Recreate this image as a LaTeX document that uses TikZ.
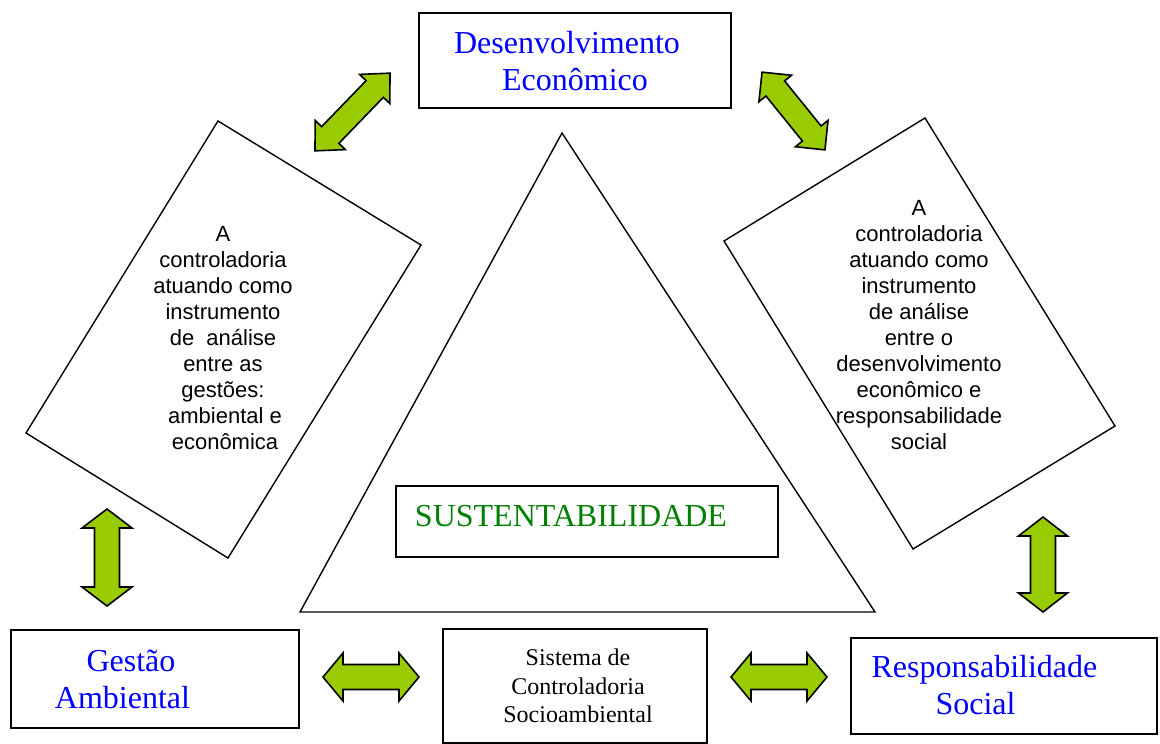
\documentclass[tikz,border=0pt]{standalone}
\usepackage{fontspec}
\setmainfont{Liberation Serif}
\newfontfamily\arialfont{Liberation Sans}
\definecolor{arrowgreen}{HTML}{99CC00}
\definecolor{textblue}{HTML}{0000FF}
\definecolor{textgreen}{HTML}{008000}
\newcommand{\blockarrow}[6]{% center, angle, half length, head half width, shaft half width, head length
  \begin{scope}[shift={#1}, rotate=#2]
    \draw[arrowshape] (-#3,0) -- (-#3+#6,#4) -- (-#3+#6,#5) -- (#3-#6,#5) -- (#3-#6,#4) -- (#3,0)
      -- (#3-#6,-#4) -- (#3-#6,-#5) -- (-#3+#6,-#5) -- (-#3+#6,-#4) -- cycle;
  \end{scope}}
\begin{document}
\begin{tikzpicture}[x=1pt,y=-1pt,
  arrowshape/.style={fill=arrowgreen, draw=black, line width=1.6pt, line join=miter},
  boxstyle/.style={draw=black, line width=1.8pt, inner sep=0pt},
  shapeline/.style={draw=black, line width=1.4pt, line join=miter},
  bluetext/.style={text=textblue, font=\fontsize{32}{37}\selectfont, align=center, inner sep=0pt},
  sanstext/.style={text=black, font=\arialfont\fontsize{22}{26}\selectfont, align=center, inner sep=0pt},
  serifblack/.style={text=black, font=\fontsize{24}{28.5}\selectfont, align=center, inner sep=0pt}]
\useasboundingbox (0,0) rectangle (1160,744);
\fill[white] (0,0) rectangle (1160,744);

% triangle
\draw[shapeline] (562,133) coordinate (apex) -- (875,612) coordinate (bright) -- (300,612) coordinate (bleft) -- cycle;

% rotated rectangles
\draw[shapeline] (218,121) -- (421,245) -- (228,558) -- (26,433) -- cycle;
\node[sanstext] (lefttext) at (223,338) {A\\controladoria\\atuando como\\instrumento\\de~~análise\\entre as\\gestões:\\\hspace{4pt}ambiental e\\\hspace{4pt}econômica};
\draw[shapeline] (925,118) -- (1115,426) -- (913,549) -- (724,241) -- cycle;
\node[sanstext] (righttext) at (919,325) {A\\controladoria\\atuando como\\instrumento\\de análise\\entre o\\desenvolvimento\\econômico e\\responsabilidade\\social};

% boxes
\draw[boxstyle] (419,13) rectangle (731,108);
\node[bluetext] (desenv) at (567,61) {Desenvolvimento\\\hspace{16pt}Econômico};

\draw[boxstyle] (396,486) rectangle (778,557);
\node[text=textgreen, font=\fontsize{32}{37}\selectfont, inner sep=0pt] (sust) at (571,516) {SUSTENTABILIDADE};

\draw[boxstyle] (11,630) rectangle (299,728);
\node[bluetext] (gestao) at (122.5,679) {\hspace{17pt}Gestão\\Ambiental};

\draw[boxstyle] (443,629) rectangle (707,743);
\node[serifblack] (sistema) at (578,686) {Sistema de\\Controladoria\\Socioambiental};

\draw[boxstyle] (851,638) rectangle (1157,734);
\node[bluetext] (resp) at (984.5,685) {Responsabilidade\\Social\hspace*{18pt}};

% block arrows
\blockarrow{(352.5,112)}{46}{54}{21}{12}{22}
\blockarrow{(793.5,111)}{-51}{50}{21}{12}{21}
\blockarrow{(107,557.5)}{90}{48.5}{25}{12.5}{19}
\blockarrow{(1043,564.5)}{90}{47.5}{24.5}{12.5}{19}
\blockarrow{(371,677)}{0}{48}{24}{12.5}{20}
\blockarrow{(779,677)}{0}{48}{24}{12.5}{20}
\end{tikzpicture}
\end{document}
